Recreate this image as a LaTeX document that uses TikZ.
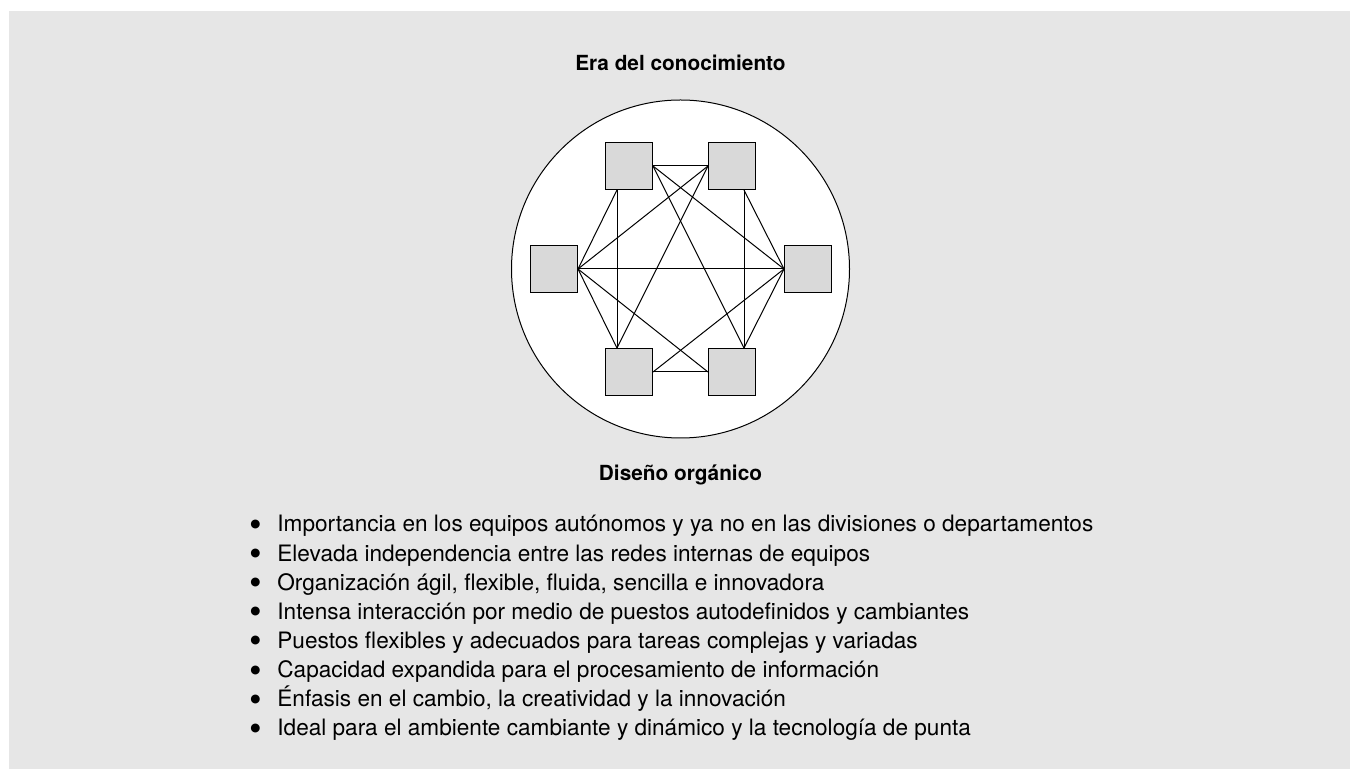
\documentclass[tikz,border=0pt]{standalone}
\usepackage{fontspec}
\setmainfont{TeX Gyre Heros}
\newfontfamily\dotfont{DejaVu Sans}
\usetikzlibrary{calc}

\definecolor{panelgray}{HTML}{E6E6E6}
\definecolor{unitgray}{HTML}{D9D9D9}
\newcommand{\bigdot}{\raisebox{2.2pt}{\dotfont\fontsize{5.8pt}{6pt}\selectfont ●}}

\begin{document}
\begin{tikzpicture}[x=0.5pt,y=-0.5pt,
        unit/.style={draw=black, line width=0.5pt, fill=unitgray, minimum size=23.5pt},
        link/.style={black, line width=0.5pt},
        heading/.style={anchor=base, font=\fontsize{10.4pt}{12pt}\selectfont\bfseries},
        item/.style={anchor=base west, font=\fontsize{11.3pt}{14.5pt}\selectfont}]
            \tikzstyle{every node}+=[inner sep=0pt]
            \useasboundingbox (0,0) rectangle (1350,769);
            \fill [panelgray] (9,11) rectangle (1350,769);
            \node (era) [heading] at (680.5,70.7) {Era del conocimiento};
            \node (ring) [draw, circle, line width=0.5pt, fill=white, minimum size=169pt] at (680.5,269) {};
            % the six teams
            \node (tl) [unit] at (629,166) {};
            \node (tr) [unit] at (732,166) {};
            \node (le) [unit] at (554,269) {};
            \node (ri) [unit] at (808,269) {};
            \node (bl) [unit] at (629,372) {};
            \node (br) [unit] at (732,372) {};
            \coordinate (tlfoot) at ($(tl.south west)!0.25!(tl.south east)$);
            \coordinate (trfoot) at ($(tr.south west)!0.75!(tr.south east)$);
            \coordinate (bltop) at ($(bl.north west)!0.25!(bl.north east)$);
            \coordinate (brtop) at ($(br.north west)!0.75!(br.north east)$);
            % every team linked with every other
            \foreach \a/\b in {tl.east/tr.west, tl.east/ri.west, tl.east/brtop,
                    tlfoot/le.east, tlfoot/bltop, tr.west/le.east, tr.west/bltop,
                    trfoot/ri.west, trfoot/brtop, le.east/ri.west, le.east/bltop,
                    le.east/br.west, ri.west/bl.east, ri.west/brtop, bl.east/br.west}
                \draw [link] (\a) -- (\b);
            \node (dis) [heading] at (680.5,480.7) {Diseño orgánico};
            \foreach \txt [count=\i] in {
                    {Importancia en los equipos autónomos y ya no en las divisiones o departamentos},
                    {Elevada independencia entre las redes internas de equipos},
                    {Organización ágil, flexible, fluida, sencilla e innovadora},
                    {Intensa interacción por medio de puestos autodefinidos y cambiantes},
                    {Puestos flexibles y adecuados para tareas complejas y variadas},
                    {Capacidad expandida para el procesamiento de información},
                    {Énfasis en el cambio, la creatividad y la innovación},
                    {Ideal para el ambiente cambiante y dinámico y la tecnología de punta}}
                \node (b\i) [item] at (250,{532+29.1*(\i-1)}) {\makebox[13.5pt][l]{\bigdot}\txt};
        \end{tikzpicture}
\end{document}
